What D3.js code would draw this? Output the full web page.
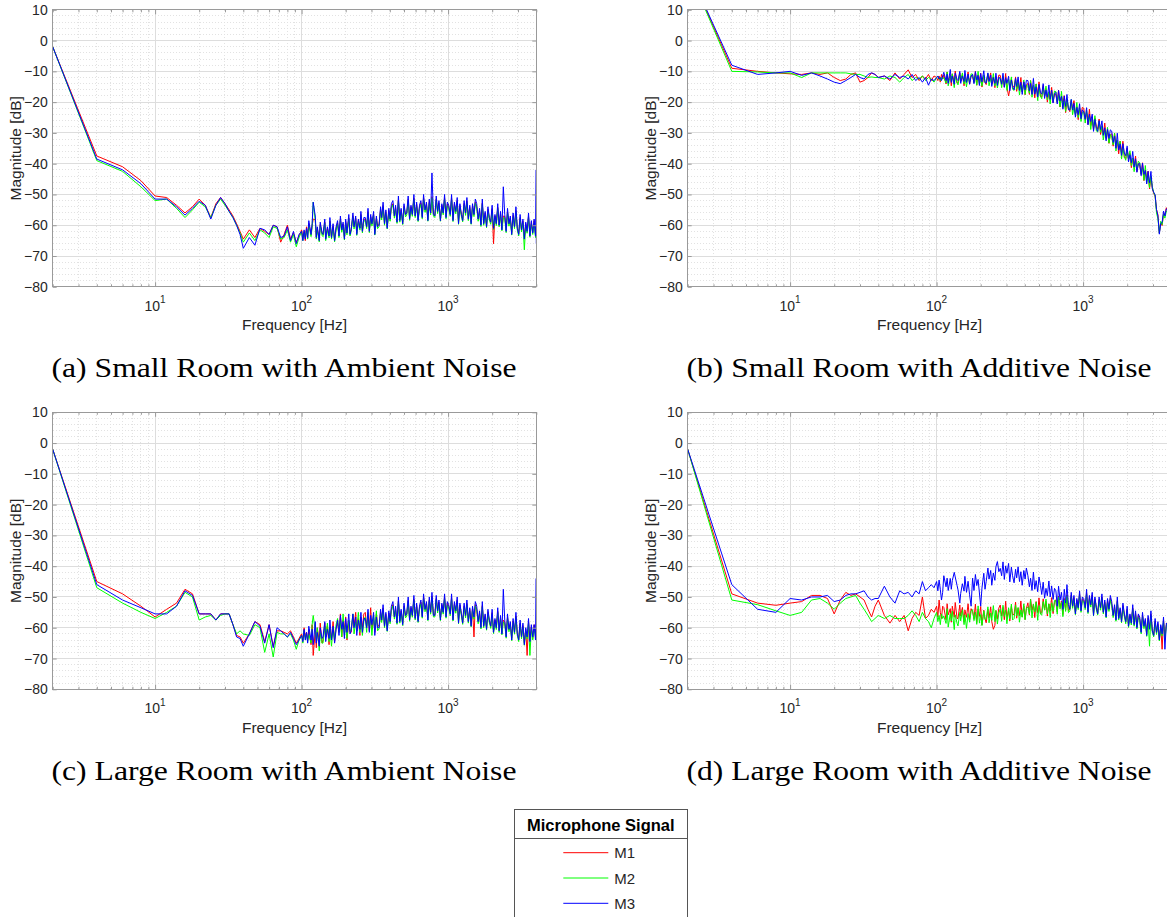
<!DOCTYPE html>
<html>
<head>
<meta charset="utf-8">
<script src="https://cdn.jsdelivr.net/npm/d3@7"></script>
<style>
  html, body { margin: 0; padding: 0; background: #fff; }
  svg { display: block; }
</style>
</head>
<body>
<svg id="chart" width="1167" height="917"></svg>
<script>
// FFT bin frequencies (Hz), shared by every spectrum
const freqHz = [
  2,4,6,8,10,12,14,16,18,20,
  22,24,26,28,30,32,34,36,38,40,
  44,48,52,56,60,64,68,72,76,80,
  84,88,92,96,100,102,104,106,108,110,
  112,116,118,120,124,126,128,132,134,138,
  140,144,146,150,154,156,160,164,168,172,
  176,180,184,188,192,196,200,204,210,214,
  218,224,228,234,238,244,250,254,260,266,
  272,278,284,290,296,302,310,316,324,330,
  338,346,352,360,368,376,384,394,402,410,
  420,430,438,448,458,468,478,490,500,512,
  522,534,546,558,570,584,596,610,624,638,
  652,666,680,696,712,728,744,760,776,794,
  812,830,848,866,886,906,926,946,968,988,
  1010,1034,1056,1080,1104,1128,1154,1178,1204,1232,
  1258,1286,1316,1344,1374,1406,1436,1468,1502,1534,
  1568,1604,1640,1676,1712,1750,1790,1830,1870,1912,
  1954,1998,2042,2088,2134,2182,2230,2280,2330,2382,
  2436,2490,2544,2602,2660,2718,2778,2840,2904,2968,
  3034,3102,3170,3242,3314,3388,3462,3540,3618,3700,
  3782,3866,3952,3996,4000
];

// (a) small room, ambient noise — magnitude in dB
const smallAmbientM1 = [
  -2,-37.5,-41,-45.5,-50.5,-51,-53.5,-56,-54,-51.5,
  -53.5,-57.5,-53,-51,-53,-55,-57,-59.5,-62,-64.5,
  -61.5,-64,-61,-62,-63,-60,-60.5,-65.5,-63,-60,
  -64.5,-62.5,-65.5,-63.5,-61.5,-64,-62,-65,-60.5,-63,
  -59.4,-63,-60.2,-58,-58.2,-63.8,-61,-64.6,-59.8,-62.6,
  -63,-59,-64.2,-61,-63.4,-58.6,-63.8,-60.2,-64.6,-61,
  -59.2,-63.2,-58,-61.6,-59.6,-64,-58.8,-62.4,-57.6,-62.8,
  -61.3,-56.9,-60.5,-57.7,-62.5,-58.5,-60.9,-56.5,-61.7,-58.1,
  -58,-60.4,-55.6,-61.6,-57.2,-59.6,-56.4,-62.4,-57.6,-60.4,
  -59.6,-54.8,-57.6,-53.6,-59.2,-55.6,-60.4,-55.2,-58,-54,
  -53,-57,-54.2,-58.6,-51.8,-58.2,-55,-59,-53.8,-56.6,
  -56,-51.6,-57.6,-54,-56.4,-51.2,-56.8,-53.2,-58,-54,
  -52.7,-57.1,-51.1,-55.1,-53.1,-57.9,-52.3,-55.9,-50.7,-56.3,
  -56.7,-51.5,-55.5,-52.7,-57.9,-53.5,-55.9,-51.1,-57.1,-53.1,
  -54,-56.4,-51.2,-58,-53.2,-55.6,-52,-58.8,-53.6,-56.4,
  -58.1,-52.9,-56.1,-52.1,-57.7,-54.1,-58.9,-53.7,-56.5,-52.5,
  -54,-58,-55.2,-59.6,-52.8,-59.2,-56,-60,-54.8,-57.6,
  -59,-54.6,-66,-57,-59.4,-54.2,-59.8,-56.2,-61,-57,
  -57.2,-61.6,-55.6,-59.6,-57.6,-62.4,-56.8,-60.4,-55.2,-60.8,
  -62.7,-57.5,-61.5,-58.7,-63.9,-59.5,-61.9,-57.1,-63.1,-59.1,
  -62,-58.5,-63,-60,-61
];
const smallAmbientM2 = [
  -2,-39,-42.5,-47.5,-52,-51.5,-54.5,-57.5,-55,-52.5,
  -54,-57.5,-53.5,-51.5,-53.5,-55.5,-57.5,-60,-62.5,-65.5,
  -62.5,-65,-61.5,-62.5,-64,-60.5,-61,-64.5,-64,-61.5,
  -65.5,-63,-67,-64,-62,-65,-62.5,-64,-61.5,-64.5,
  -59.9,-63.7,-60.7,-52.5,-58.6,-64.5,-61.6,-65.4,-60.3,-63.3,
  -63.7,-59.4,-65,-61.6,-64.1,-59,-64.5,-60.7,-65.4,-61.6,
  -59.7,-64,-58.4,-62.3,-60.1,-64.8,-59.3,-63.1,-58,-63.5,
  -62,-57.3,-61.2,-58.2,-63.3,-59,-61.6,-56.9,-62.5,-58.6,
  -58.5,-61.1,-56,-62.4,-57.7,-60.2,-56.8,-63.2,-58.1,-61.1,
  -60.4,-55.3,-58.3,-54,-60,-56.1,-61.2,-55.7,-58.7,-54.4,
  -53.4,-57.7,-54.7,-59.4,-52.2,-59,-55.6,-59.8,-54.3,-57.3,
  -56.7,-52,-58.4,-54.6,-57.1,-51.6,-57.5,-53.7,-58.8,-54.6,
  -53.2,-57.9,-51.5,-55.8,-53.6,-58.7,-52.8,-56.6,-51.1,-57,
  -57.5,-51.9,-56.2,-53.2,-58.7,-54.1,-56.6,-51.5,-57.9,-53.6,
  -54.6,-57.1,-51.6,-58.8,-53.7,-56.3,-52.4,-59.7,-54.1,-57.1,
  -58.9,-53.4,-56.8,-52.5,-58.5,-54.6,-59.7,-54.2,-57.2,-52.9,
  -54.4,-58.7,-55.7,-60.4,-53.2,-60,-56.6,-60.8,-55.3,-58.3,
  -59.7,-55,-61.4,-57.6,-60.1,-54.6,-60.5,-56.7,-61.8,-57.6,
  -57.7,-62.4,-56,-60.3,-58.1,-63.2,-57.3,-61.1,-55.6,-61.5,
  -63.5,-57.9,-62.2,-59.2,-68,-60.1,-62.6,-57.5,-63.9,-59.6,
  -63,-59.5,-64,-61,-62
];
const smallAmbientM3 = [
  -2,-38.5,-42,-46.5,-51.5,-51.5,-54,-56.7,-54.5,-52.2,
  -53.5,-58,-53.5,-51,-53,-55.5,-57.5,-60,-63,-67.5,
  -64,-66.5,-61,-61.5,-63,-60,-60.5,-64,-63.5,-60.5,
  -65,-62,-66,-63,-62,-65,-61.5,-64.5,-61,-64,
  -58.5,-63,-59.5,-52.5,-57,-64,-60.5,-65,-59,-62.5,
  -63,-58,-64.5,-60.5,-63.5,-57.5,-64,-59.5,-65,-60.5,
  -58.5,-63.5,-57,-61.5,-59,-64.5,-58,-62.5,-56.5,-63,
  -61.5,-56,-60.5,-57,-63,-58,-61,-55.5,-62,-57.5,
  -57.5,-60.5,-54.5,-62,-56.5,-59.5,-55.5,-63,-57,-60.5,
  -60,-54,-57.5,-52.5,-59.5,-55,-61,-54.5,-58,-53,
  -52,-57,-53.5,-59,-50.5,-58.5,-54.5,-59.5,-53,-56.5,
  -56,-50.5,-58,-53.5,-56.5,-50,-57,-52.5,-58.5,-53.5,
  -52,-57.5,-50,-55,-52.5,-58.5,-51.5,-56,-43,-56.5,
  -57,-50.5,-55.5,-52,-58.5,-53,-56,-50,-57.5,-52.5,
  -53.5,-56.5,-50,-58.5,-52.5,-55.5,-51,-59.5,-53,-56.5,
  -58.5,-52,-56,-51,-58,-53.5,-59.5,-53,-56.5,-51.5,
  -53,-58,-54.5,-60,-51.5,-59.5,-55.5,-60.5,-54,-57.5,
  -59,-53.5,-61,-56.5,-59.5,-53,-60,-55.5,-61.5,-47.5,
  -56.5,-62,-54.5,-59.5,-57,-63,-56,-60.5,-54,-61,
  -63,-56.5,-61.5,-58,-64.5,-59,-62,-56,-63.5,-58.5,
  -62.5,-58,-63.5,-42,-66
];

// (b) small room, additive noise
const smallAdditiveM1 = [
  23.5,-9,-10,-10.5,-10.8,-11,-10.5,-11,-10.5,-12,
  -13,-12.5,-11,-10.5,-13.5,-13,-12,-10.5,-11,-12,
  -11.5,-13,-10.5,-12.5,-11,-9.5,-12,-11,-13,-11.5,
  -12.5,-11,-13,-11.5,-12,-13,-11.5,-13.5,-11,-12.5,
  -11.1,-14.1,-10.2,-12.9,-11.4,-14.7,-10.8,-13.5,-9.9,-13.8,
  -13.8,-10.5,-13.2,-11.1,-14.7,-11.7,-13.5,-10.2,-14.1,-11.4,
  -11.8,-13.6,-10,-14.5,-11.2,-13,-10.6,-15.1,-11.5,-13.6,
  -14.3,-11,-13.2,-10.5,-14.2,-11.9,-15.3,-11.7,-13.9,-11.2,
  -11.3,-14.1,-12,-15.1,-10.7,-15,-18,-15.9,-12.4,-14.6,
  -15.2,-11.8,-16.5,-13.8,-16,-12,-16.7,-13.6,-17.6,-14.5,
  -13.9,-17.5,-13,-16.3,-14.6,-18.6,-14.1,-17.4,-13.4,-18.2,
  -18.3,-14.6,-18,-15.6,-20,-16.7,-18.9,-15.2,-20.1,-17.1,
  -17.7,-20.1,-16.1,-21.6,-18,-20.4,-17.9,-23.4,-19.4,-22.2,
  -23.1,-19.6,-22.4,-19.5,-24.1,-21.5,-25.7,-21.8,-24.6,-21.7,
  -22,-25.5,-23.4,-27.2,-22.3,-27.6,-25.5,-29,-25.1,-28,
  -28.7,-25.5,-30.5,-28.1,-30.6,-26.8,-31.8,-29,-33.4,-30.6,
  -30.3,-34.3,-30.1,-33.8,-32.4,-36.8,-32.7,-36.4,-32.7,-37.8,
  -38.3,-34.9,-38.6,-36.6,-41.3,-38.3,-40.9,-37.5,-42.6,-39.9,
  -40.8,-43.4,-39.7,-45.5,-42.1,-44.7,-42.4,-48.2,-44.4,-47.9,
  -49.7,-50.5,-54.9,-56.6,-62.5,-59.4,-60.1,-56.2,-56.6,-54.3,
  -55.4,-54,-54.6,-53.2,-53.8
];
const smallAdditiveM2 = [
  23.5,-10,-10.2,-10.5,-10.5,-12,-10.5,-10.5,-10.5,-10.5,
  -10.5,-10.5,-10.8,-11,-11,-11.5,-12,-11.8,-12,-12,
  -12.5,-11.5,-12,-13.5,-12,-11,-13,-12,-12.5,-11.5,
  -13,-12,-12.5,-13.5,-12,-11.5,-12.5,-13,-12,-12.5,
  -12,-13.8,-10.2,-14.7,-11.4,-13.2,-10.8,-15.3,-11.7,-13.8,
  -14.4,-11.1,-13.2,-10.5,-14.1,-11.7,-15,-11.4,-13.5,-10.8,
  -10.9,-13.6,-11.5,-14.5,-10,-14.2,-12.1,-14.8,-11.2,-13.3,
  -13.7,-10.7,-14.7,-12.3,-14.2,-10.7,-14.7,-12,-15.4,-12.7,
  -12.2,-15.3,-11.4,-14.2,-12.8,-16.2,-12.4,-15.3,-11.8,-15.8,
  -16.2,-12.5,-15.8,-13.4,-17.7,-14.4,-16.6,-12.8,-17.5,-14.4,
  -14.9,-17.1,-13,-18.4,-14.6,-16.8,-14.1,-19.5,-15.4,-18.1,
  -18.9,-15.2,-17.9,-14.8,-19.3,-16.6,-20.6,-16.6,-19.4,-16.4,
  -16.6,-20.1,-17.8,-21.5,-16.5,-21.8,-19.6,-23,-19,-21.8,
  -22.4,-19.2,-24.1,-21.6,-24,-20.1,-25,-22.1,-26.3,-23.4,
  -23,-26.8,-22.6,-26.1,-24.7,-28.9,-24.7,-28.2,-24.4,-29.4,
  -29.7,-26.2,-29.8,-27.7,-32.3,-29.2,-31.7,-28.2,-33.3,-30.5,
  -31.3,-33.9,-30.1,-35.9,-32.4,-35,-32.7,-38.5,-34.7,-37.7,
  -38.9,-35.5,-38.5,-35.8,-40.6,-38.2,-42.6,-38.9,-41.9,-39.2,
  -39.7,-43.4,-41.4,-45.4,-40.6,-46.1,-44.1,-47.8,-44,-47.5,
  -49.4,-50.4,-56,-57.9,-62.6,-58.7,-59.8,-56.5,-57.7,-55.4,
  -55.8,-54.6,-54.7,-53.9,-54
];
const smallAdditiveM3 = [
  23.5,-8,-11,-10.5,-10,-11.3,-10.5,-11.5,-12.5,-13.5,
  -14,-13,-12,-11,-12,-12.5,-11,-10.5,-11,-12,
  -11.5,-12.5,-11,-12,-11.5,-12.5,-11,-13,-12,-13.5,
  -12,-14.5,-12.5,-13,-12,-11.5,-12.5,-12,-13,-11.5,
  -10.3,-13,-10.9,-13.9,-9.4,-13.6,-11.5,-14.2,-10.6,-12.7,
  -13,-10,-13.9,-11.5,-13.3,-9.7,-13.6,-10.9,-14.2,-11.5,
  -11,-14,-10.1,-12.8,-11.3,-14.6,-10.7,-13.4,-9.8,-13.7,
  -13.8,-10.5,-13.3,-11.2,-14.9,-12,-13.9,-10.6,-14.6,-11.9,
  -12.3,-14.2,-10.6,-15.2,-12,-13.9,-11.6,-16.3,-12.8,-15,
  -16,-12.3,-14.9,-11.8,-16.2,-13.5,-17.5,-13.4,-16,-12.9,
  -13,-16.3,-13.9,-17.5,-12.3,-17.4,-15,-18.3,-14.2,-16.9,
  -17.4,-14,-18.8,-16.1,-18.4,-14.4,-19.1,-16.1,-20.3,-17.3,
  -16.8,-20.6,-16.2,-19.6,-18.1,-22.3,-18,-21.4,-17.5,-22.4,
  -22.6,-19.1,-22.6,-20.4,-24.9,-21.7,-24.1,-20.5,-25.4,-22.5,
  -23.2,-25.6,-21.8,-27.4,-23.9,-26.3,-23.9,-29.5,-25.6,-28.5,
  -29.5,-26,-28.9,-26.1,-30.8,-28.3,-32.6,-28.8,-31.8,-29,
  -29.4,-33.1,-31,-35,-30.1,-35.6,-33.6,-37.3,-33.5,-36.5,
  -37.4,-34.3,-39.4,-37.1,-39.7,-36,-41.1,-38.4,-42.8,-40.1,
  -39.9,-43.9,-39.8,-43.5,-42.2,-46.6,-42.5,-46.2,-42.5,-48.1,
  -49.3,-50.1,-54.9,-57,-62.9,-59.4,-59.1,-55.4,-57,-54.7,
  -54.6,-54.5,-53.6,-53.5,-53.2
];

// (c) large room, ambient noise
const largeAmbientM1 = [
  -2,-45,-49,-53,-56.5,-54,-52,-47.5,-49,-55.5,
  -55.5,-55.5,-57.5,-55.5,-55.5,-55.5,-59,-62.5,-63,-65,
  -62,-58,-59,-64.5,-59,-66,-61,-61,-61.5,-62,
  -61,-63,-65,-63.5,-62,-64,-60,-63,-61.5,-64,
  -60.5,-65.5,-59,-69,-61,-66.5,-60,-64.5,-58.5,-65,
  -64,-58.5,-63,-59.5,-65.5,-60.5,-63.5,-58,-64.5,-60,
  -58.5,-61.5,-55.5,-63,-57.5,-60.5,-56.5,-64,-58,-61.5,
  -61.5,-56,-59.5,-55,-61,-57,-62.5,-56.5,-60,-55.5,
  -55,-59.5,-56,-61,-53.5,-60.5,-57,-61.5,-55.5,-59,
  -59.6,-54.8,-57.6,-53.6,-59.2,-55.6,-60.4,-55.2,-58,-54,
  -52.5,-56.5,-53.7,-58.1,-51.3,-57.7,-54.5,-58.5,-52.9,-56.1,
  -55.5,-51.1,-57.1,-53.5,-55.9,-50.7,-56.7,-52.7,-57.5,-53.5,
  -51.7,-56.1,-50.1,-54.1,-52.1,-56.9,-50.9,-54.9,-49.7,-55.7,
  -55.7,-50.5,-54.5,-51.7,-56.9,-52.5,-54.9,-50.1,-56.1,-52.1,
  -53,-55.4,-50.2,-57,-52.2,-54.6,-51,-57.8,-52.6,-55.4,
  -58.1,-52.9,-56.1,-52.1,-57.7,-54.1,-58.9,-53.7,-63,-52.5,
  -54,-58,-55.2,-59.6,-52.8,-59.2,-56,-60,-54.8,-57.6,
  -59.5,-55.1,-61.1,-57.5,-59.9,-54.7,-60.7,-56.7,-61.5,-57.5,
  -58.2,-62.6,-56.6,-60.6,-58.6,-63.4,-57.8,-61.4,-56.2,-61.8,
  -63.7,-58.5,-62.9,-59.3,-64.9,-60.5,-69,-58.1,-64.1,-59.7,
  -63.5,-59,-62,-60.5,-63
];
const largeAmbientM2 = [
  -2,-47,-52,-55,-57,-55,-53,-48.5,-50,-57.5,
  -56.5,-56,-57.5,-56,-55.5,-55.5,-59,-62,-61,-62,
  -62.5,-59,-60,-68,-62,-69.5,-61.5,-62,-62,-63,
  -62,-64,-67,-64,-62.5,-65,-61,-63.5,-62,-64.5,
  -62,-65,-59,-56,-61,-64,-60,-67.5,-61.5,-65,
  -65,-59.5,-63,-58.5,-64.5,-60.5,-66,-60,-63.5,-59,
  -57,-61.5,-58,-63,-55.5,-62.5,-59,-63.5,-57.5,-61,
  -60.5,-55.5,-62,-58,-61,-55,-61.5,-57,-62.5,-58,
  -56.5,-61.5,-55,-59.5,-57,-62.5,-56,-60.5,-54.5,-61,
  -60.4,-55.3,-58.3,-54,-60,-56.1,-61.2,-55.7,-58.7,-54.4,
  -52.9,-57.2,-54.2,-58.9,-51.7,-58.5,-55.1,-59.3,-53.4,-56.8,
  -56.2,-51.5,-57.9,-54.1,-56.6,-51.1,-57.5,-53.2,-58.3,-54.1,
  -52.2,-56.9,-50.5,-54.8,-52.6,-57.7,-51.4,-55.6,-50.1,-56.5,
  -56.5,-50.9,-55.2,-52.2,-57.7,-53.1,-55.6,-50.5,-56.9,-52.6,
  -53.6,-56.1,-50.6,-57.8,-52.7,-55.3,-51.4,-58.7,-53.1,-56.1,
  -58.9,-53.4,-56.8,-52.5,-58.5,-54.6,-59.7,-54.2,-57.2,-52.9,
  -54.4,-58.7,-55.7,-60.4,-53.2,-60,-56.6,-60.8,-55.3,-58.3,
  -60.2,-55.5,-61.9,-58.1,-60.6,-55.1,-61.5,-57.2,-62.3,-58.1,
  -58.7,-63.4,-57,-61.3,-59.1,-64.2,-58.3,-62.1,-56.6,-62.5,
  -64.5,-58.9,-63.6,-59.8,-65.7,-61.1,-63.6,-58.5,-69,-60.2,
  -64,-60,-63,-61.5,-64
];
const largeAmbientM3 = [
  -2,-46,-51,-53.5,-55.5,-55.5,-53,-48,-49.5,-55.5,
  -55.5,-55.5,-57.5,-55.5,-55.5,-55.5,-59,-63,-63.5,-66,
  -62,-58,-59.5,-65,-59,-66.5,-60,-61,-62,-63,
  -61.5,-63.5,-65.5,-64,-62.5,-64.5,-60.5,-64,-61.5,-65,
  -59.5,-64,-60.5,-65.5,-58,-65,-61.5,-66,-60,-63.5,
  -63,-58,-64.5,-60.5,-63.5,-57.5,-64,-59.5,-65,-60.5,
  -57.5,-62.5,-56,-60.5,-58,-63.5,-57,-61.5,-55.5,-62,
  -61,-55.5,-60,-56.5,-62.5,-57.5,-60.5,-55,-61.5,-57,
  -57,-60,-54,-61.5,-56,-59,-55,-62.5,-56.5,-60,
  -60,-54,-57.5,-52.5,-59.5,-55,-61,-54.5,-58,-53,
  -51.5,-56.5,-53,-58.5,-50,-58,-54,-59,-52,-56,
  -55.5,-50,-57.5,-53,-56,-49.5,-57,-52,-58,-53,
  -51,-56.5,-49,-54,-51.5,-57.5,-50,-55,-48.5,-56,
  -56,-49.5,-54.5,-51,-57.5,-52,-55,-49,-56.5,-51.5,
  -52.5,-55.5,-49,-57.5,-51.5,-54.5,-50,-58.5,-52,-55.5,
  -58.5,-52,-56,-51,-58,-53.5,-59.5,-53,-56.5,-51.5,
  -53,-58,-54.5,-60,-51.5,-59.5,-55.5,-60.5,-54,-57.5,
  -59.5,-54,-61.5,-57,-60,-53.5,-61,-56,-62,-47.5,
  -57.5,-63,-55.5,-60.5,-58,-64,-57,-61.5,-55,-62,
  -64,-57.5,-63,-58.5,-65.5,-60,-63,-57,-64.5,-59,
  -63,-59,-64,-44,-61
];

// (d) large room, additive noise
const largeAdditiveM1 = [
  -2,-49,-52,-52.7,-52,-51.5,-49.5,-49.5,-50.5,-55.5,
  -51,-48.5,-49.5,-49,-50,-51,-54,-56.5,-53,-51,
  -56,-58.5,-56,-58,-56,-61,-57,-55,-56,-50,
  -57,-56,-54,-55,-53,-56.5,-51,-55,-57,-53,
  -53.4,-57.4,-52.2,-55.8,-53.8,-58.2,-53,-56.6,-51.8,-57,
  -57,-52.6,-56.2,-53.4,-58.2,-54.2,-56.6,-52.2,-57.4,-53.8,
  -54.7,-57.1,-52.3,-58.3,-53.9,-56.3,-53.1,-59.1,-54.3,-57.1,
  -58.4,-54,-56.8,-53.2,-58,-60.5,-59.2,-54.4,-57.2,-53.6,
  -52.6,-56.2,-53.4,-57.4,-51.4,-57,-54.2,-57.8,-53,-55.8,
  -55.7,-51.7,-56.9,-53.7,-56.1,-51.3,-56.5,-52.9,-57.3,-53.7,
  -51.9,-55.9,-50.7,-54.3,-52.3,-56.7,-51.5,-55.1,-50.3,-55.5,
  -55,-50.6,-54.2,-51.4,-56.2,-52.2,-54.6,-50.2,-55.4,-51.8,
  -50.9,-54.9,-49.7,-53.3,-51.3,-55.7,-50.5,-54.1,-49.3,-54.5,
  -53.8,-49.4,-53,-50.2,-55,-51,-53.4,-49,-54.2,-50.6,
  -51,-53.4,-48.6,-54.6,-50.2,-52.6,-49.4,-55.4,-50.6,-53.4,
  -55.2,-50.8,-53.6,-50,-54.8,-51.6,-56,-51.2,-54,-50.4,
  -52.4,-56,-53.2,-57.2,-51.2,-56.8,-54,-57.6,-52.8,-55.6,
  -58,-54,-59.2,-56,-58.4,-53.6,-58.8,-55.2,-59.6,-56,
  -57.2,-61.2,-56,-59.6,-57.6,-62,-56.8,-60.4,-55.6,-60.8,
  -62.3,-57.9,-61.5,-58.7,-63.5,-59.5,-67,-57.5,-62.5,-59.1,
  -58,-55,-53,-51,-50.5
];
const largeAdditiveM2 = [
  -2,-51,-52.5,-54.5,-56,-55,-51,-50.5,-52,-54,
  -52,-50.5,-50,-49.5,-52,-54,-56,-58,-57,-56,
  -57,-56,-57,-57,-57,-56,-54.5,-56,-58,-55,
  -57,-58,-60,-57,-55,-58,-56,-59,-55.5,-57,
  -56.2,-58.6,-53.8,-59.8,-55.4,-57.8,-54.6,-60.6,-55.8,-58.6,
  -59.4,-55,-57.8,-54.2,-59,-55.8,-60.2,-55.4,-58.2,-54.6,
  -54.1,-57.7,-54.9,-58.9,-52.9,-58.5,-55.7,-59.3,-54.5,-57.3,
  -57.2,-53.2,-58.4,-55.2,-57.6,-52.8,-58,-54.4,-58.8,-55.2,
  -53.9,-57.9,-52.7,-56.3,-54.3,-58.7,-53.5,-57.1,-52.3,-57.5,
  -57,-52.6,-56.2,-53.4,-58.2,-54.2,-56.6,-52.2,-57.4,-53.8,
  -53.2,-55.6,-50.8,-56.8,-52.4,-54.8,-51.6,-57.6,-52.8,-55.6,
  -55.9,-51.5,-54.3,-50.7,-55.5,-52.3,-56.7,-51.9,-54.7,-51.1,
  -51.3,-55.6,-50,-53.9,-51.7,-56.4,-50.9,-54.7,-49.6,-55.1,
  -54.5,-49.9,-53.7,-50.7,-55.8,-51.6,-54.1,-49.4,-55,-51.1,
  -51.6,-54.1,-49,-55.4,-50.7,-53.3,-49.9,-56.2,-51.1,-54.1,
  -55.9,-51.3,-54.3,-50.4,-55.5,-52.1,-56.8,-51.7,-54.7,-50.9,
  -52.9,-56.7,-53.7,-57.9,-51.6,-57.5,-54.6,-58.4,-53.3,-56.3,
  -58.7,-54.4,-59.9,-56.6,-59.1,-54,-59.5,-55.7,-60.4,-56.6,
  -57.7,-62,-56.4,-60.3,-58.1,-62.8,-57.3,-66,-56,-61.5,
  -63,-58.3,-62.2,-59.2,-64.3,-60,-62.6,-57.9,-63.9,-59.6,
  -58,-56,-55,-53.5,-54
];
const largeAdditiveM3 = [
  -2,-46,-54,-55,-50.5,-51,-50,-50,-49.5,-51.5,
  -51,-49.5,-49,-49,-48.5,-48,-50,-51,-50.5,-50.5,
  -46.5,-50,-52,-48,-49,-48.5,-50,-48,-49,-45,
  -48,-47,-46,-47,-45,-48,-44.5,-47.5,-51,-48.5,
  -43.1,-46.7,-43.9,-47.9,-44,-47.5,-44.7,-42,-43.5,-46.3,
  -47.7,-52,-48.9,-45.7,-48.1,-43.3,-48.5,-44.9,-49.3,-53,
  -43.9,-47.9,-42.7,-46.3,-44.3,-48.7,-53,-47.1,-42.3,-47.5,
  -45,-40.6,-44.2,-41.4,-46.2,-42.2,-44.6,-40.2,-38.5,-41.8,
  -40.7,-43.1,-38.6,-44.3,-39.9,-42.3,-39.1,-45.1,-40.3,-43.1,
  -45.4,-41,-43.8,-40.2,-45,-41.8,-46.2,-41.4,-44.2,-40.6,
  -43.1,-46.7,-43.9,-47.9,-41.9,-47.5,-44.7,-48.3,-43.5,-46.3,
  -49.2,-45.2,-50.4,-47.2,-49.6,-44.8,-50,-46.4,-50.8,-47.2,
  -48,-53,-46.5,-51,-48.5,-54,-47.5,-52,-46,-52.5,
  -54,-48.5,-53,-49.5,-55.5,-50.5,-53.5,-48,-54.5,-50,
  -50.5,-53.5,-47.5,-55,-49.5,-52.5,-48.5,-56,-50,-53.5,
  -55.5,-50,-53.5,-49,-55,-51,-56.5,-50.5,-54,-49.5,
  -51.5,-56,-52.5,-57.5,-50,-57,-53.5,-58,-52,-55.5,
  -58,-53,-59.5,-55.5,-58.5,-52.5,-59,-54.5,-60,-55.5,
  -56.5,-61.5,-55,-59.5,-57,-62.5,-56,-60.5,-54.5,-61,
  -62.5,-57,-61.5,-58,-64,-59,-62,-56.5,-67,-58.5,
  -59,-57,-58,-56,-57
];

const seriesNames = ['M1', 'M2', 'M3'];
const seriesColors = ['#ff0000', '#00ff00', '#0000ff'];
const panelCaptions = [
  '(a) Small Room with Ambient Noise',
  '(b) Small Room with Additive Noise',
  '(c) Large Room with Ambient Noise',
  '(d) Large Room with Additive Noise'
];
const yTicks = [-80, -70, -60, -50, -40, -30, -20, -10, 0, 10];
const xMajorTicks = [10, 100, 1000];
const xTickExponents = ['1', '2', '3'];
const xMinorTicks = [2,3,4,5,6,7,8,9,20,30,40,50,60,70,80,90,200,300,400,500,600,700,800,900,2000,3000,4000];
const yMinorTicks = d3.range(-78, 10, 2).filter(v => v % 10 !== 0);
const freqDomain = [2, 4000];
const magDomain = [-80, 10];
const legendTitle = 'Microphone Signal';

const panelSeries = [
  [smallAmbientM1, smallAmbientM2, smallAmbientM3],
  [smallAdditiveM1, smallAdditiveM2, smallAdditiveM3],
  [largeAmbientM1, largeAmbientM2, largeAmbientM3],
  [largeAdditiveM1, largeAdditiveM2, largeAdditiveM3]
];

// ---- layout ----
const PLOT_W = 483.6, PLOT_H = 277;
const panelOrigins = [
  { x: 52.7, y: 9.8 }, { x: 687.7, y: 9.8 },
  { x: 52.7, y: 412.3 }, { x: 687.7, y: 412.3 }
];
const captionBaselines = [377, 377, 779.5, 779.5];
const captionCenters = [284, 919, 284, 919];

const AXIS_COLOR = '#9a9a9a';
const TEXT_COLOR = '#262626';
const SANS = "'Liberation Sans', Arial, Helvetica, sans-serif";
const SERIF = "'Liberation Serif', 'Times New Roman', serif";

const svg = d3.select('#chart');
svg.append('rect').attr('width', 1167).attr('height', 917).attr('fill', '#fff');

const x = d3.scaleLog().domain(freqDomain).range([0, PLOT_W]);
const y = d3.scaleLinear().domain(magDomain).range([PLOT_H, 0]);

const line = d3.line()
  .x(d => x(d[0]))
  .y(d => y(d[1]));

panelSeries.forEach((series, pi) => {
  const o = panelOrigins[pi];
  const g = svg.append('g').attr('transform', `translate(${o.x},${o.y})`);

  // minor grid (dotted)
  const minor = g.append('g').attr('shape-rendering', 'crispEdges')
    .attr('stroke', '#e2e2e2').attr('stroke-width', 1).attr('stroke-dasharray', '1,2');
  minor.selectAll('line.vx').data(xMinorTicks).join('line')
    .attr('x1', d => x(d)).attr('x2', d => x(d)).attr('y1', 0).attr('y2', PLOT_H);
  minor.selectAll('line.hy').data(yMinorTicks).join('line')
    .attr('y1', d => y(d)).attr('y2', d => y(d)).attr('x1', 0).attr('x2', PLOT_W);

  // major grid
  const major = g.append('g').attr('shape-rendering', 'crispEdges')
    .attr('stroke', '#dddddd').attr('stroke-width', 1);
  major.selectAll('line.vx').data(xMajorTicks).join('line')
    .attr('x1', d => x(d)).attr('x2', d => x(d)).attr('y1', 0).attr('y2', PLOT_H);
  major.selectAll('line.hy').data(yTicks).join('line')
    .attr('y1', d => y(d)).attr('y2', d => y(d)).attr('x1', 0).attr('x2', PLOT_W);

  // spectra, clipped to the axes box
  const clipId = `clip-${pi}`;
  g.append('clipPath').attr('id', clipId)
    .append('rect').attr('width', PLOT_W).attr('height', PLOT_H);
  const traces = g.append('g').attr('clip-path', `url(#${clipId})`);
  series.forEach((vals, si) => {
    const pts = freqHz.map((f, i) => [f, vals[i]]).filter(p => p[1] !== undefined);
    traces.append('path')
      .datum(pts)
      .attr('fill', 'none')
      .attr('stroke', seriesColors[si])
      .attr('stroke-width', 1)
      .attr('stroke-linejoin', 'round')
      .attr('d', line);
  });

  // axes: ticks inside on all four sides
  const styleAxis = sel => {
    sel.select('.domain').remove();
    sel.selectAll('.tick line').attr('stroke', AXIS_COLOR);
  };
  g.append('g').call(d3.axisLeft(y).tickValues(yTicks).tickSizeInner(-4).tickSizeOuter(0).tickPadding(5))
    .call(styleAxis)
    .call(s => s.selectAll('.tick text').attr('fill', TEXT_COLOR)
      .style('font-family', SANS).style('font-size', '14px'));
  g.append('g').attr('transform', `translate(${PLOT_W},0)`)
    .call(d3.axisRight(y).tickValues(yTicks).tickSizeInner(-4).tickSizeOuter(0).tickFormat(''))
    .call(styleAxis);
  g.append('g').attr('transform', `translate(0,${PLOT_H})`)
    .call(d3.axisBottom(x).tickValues(xMajorTicks).tickSizeInner(-4.5).tickSizeOuter(0).tickFormat(''))
    .call(styleAxis);
  g.append('g').attr('transform', `translate(0,${PLOT_H})`)
    .call(d3.axisBottom(x).tickValues(xMinorTicks).tickSizeInner(-2.5).tickSizeOuter(0).tickFormat(''))
    .call(styleAxis);
  g.append('g')
    .call(d3.axisTop(x).tickValues(xMajorTicks).tickSizeInner(-4.5).tickSizeOuter(0).tickFormat(''))
    .call(styleAxis);
  g.append('g')
    .call(d3.axisTop(x).tickValues(xMinorTicks).tickSizeInner(-2.5).tickSizeOuter(0).tickFormat(''))
    .call(styleAxis);

  // decade labels 10^n
  xMajorTicks.forEach((v, k) => {
    const t = g.append('text')
      .attr('x', x(v)).attr('y', PLOT_H + 24.2)
      .attr('text-anchor', 'middle')
      .attr('fill', TEXT_COLOR)
      .style('font-family', SANS).style('font-size', '14px');
    t.append('tspan').text('10');
    t.append('tspan').attr('dy', -7.5).style('font-size', '10px').text(xTickExponents[k]);
  });

  // axes box
  g.append('rect').attr('width', PLOT_W).attr('height', PLOT_H)
    .attr('fill', 'none').attr('stroke', AXIS_COLOR).attr('stroke-width', 1)
    .attr('shape-rendering', 'crispEdges');

  // axis titles
  g.append('text')
    .attr('x', PLOT_W / 2).attr('y', PLOT_H + 43.5)
    .attr('text-anchor', 'middle').attr('fill', TEXT_COLOR)
    .style('font-family', SANS).style('font-size', '15.5px')
    .text('Frequency [Hz]');
  g.append('text')
    .attr('transform', `translate(-32,${PLOT_H / 2}) rotate(-90)`)
    .attr('text-anchor', 'middle').attr('fill', TEXT_COLOR)
    .style('font-family', SANS).style('font-size', '15.5px')
    .text('Magnitude [dB]');

  // sub-figure caption
  svg.append('text')
    .attr('x', captionCenters[pi]).attr('y', captionBaselines[pi])
    .attr('text-anchor', 'middle').attr('fill', '#000')
    .attr('textLength', 465).attr('lengthAdjust', 'spacingAndGlyphs')
    .style('font-family', SERIF).style('font-size', '28px')
    .text(panelCaptions[pi]);
});

// ---- shared legend ----
const lg = svg.append('g');
const LX = 514.3, LY = 809, LW = 173, LH = 120;
lg.append('rect').attr('x', LX).attr('y', LY).attr('width', LW).attr('height', LH)
  .attr('fill', '#fff').attr('stroke', '#555').attr('stroke-width', 1)
  .attr('shape-rendering', 'crispEdges');
lg.append('line').attr('x1', LX).attr('x2', LX + LW).attr('y1', 838.3).attr('y2', 838.3)
  .attr('stroke', '#555').attr('stroke-width', 1).attr('shape-rendering', 'crispEdges');
lg.append('text').attr('x', LX + LW / 2).attr('y', 830.7)
  .attr('text-anchor', 'middle').attr('fill', '#000')
  .style('font-family', SANS).style('font-size', '16.5px').style('font-weight', 'bold')
  .text(legendTitle);
const entryY = [852.7, 878, 903.3];
seriesNames.forEach((name, i) => {
  lg.append('line').attr('x1', 563.3).attr('x2', 608.3)
    .attr('y1', entryY[i]).attr('y2', entryY[i])
    .attr('stroke', seriesColors[i]).attr('stroke-width', 1);
  lg.append('text').attr('x', 614.3).attr('y', entryY[i] + 5.5)
    .attr('fill', TEXT_COLOR)
    .style('font-family', SANS).style('font-size', '15px')
    .text(name);
});
</script>
</body>
</html>
